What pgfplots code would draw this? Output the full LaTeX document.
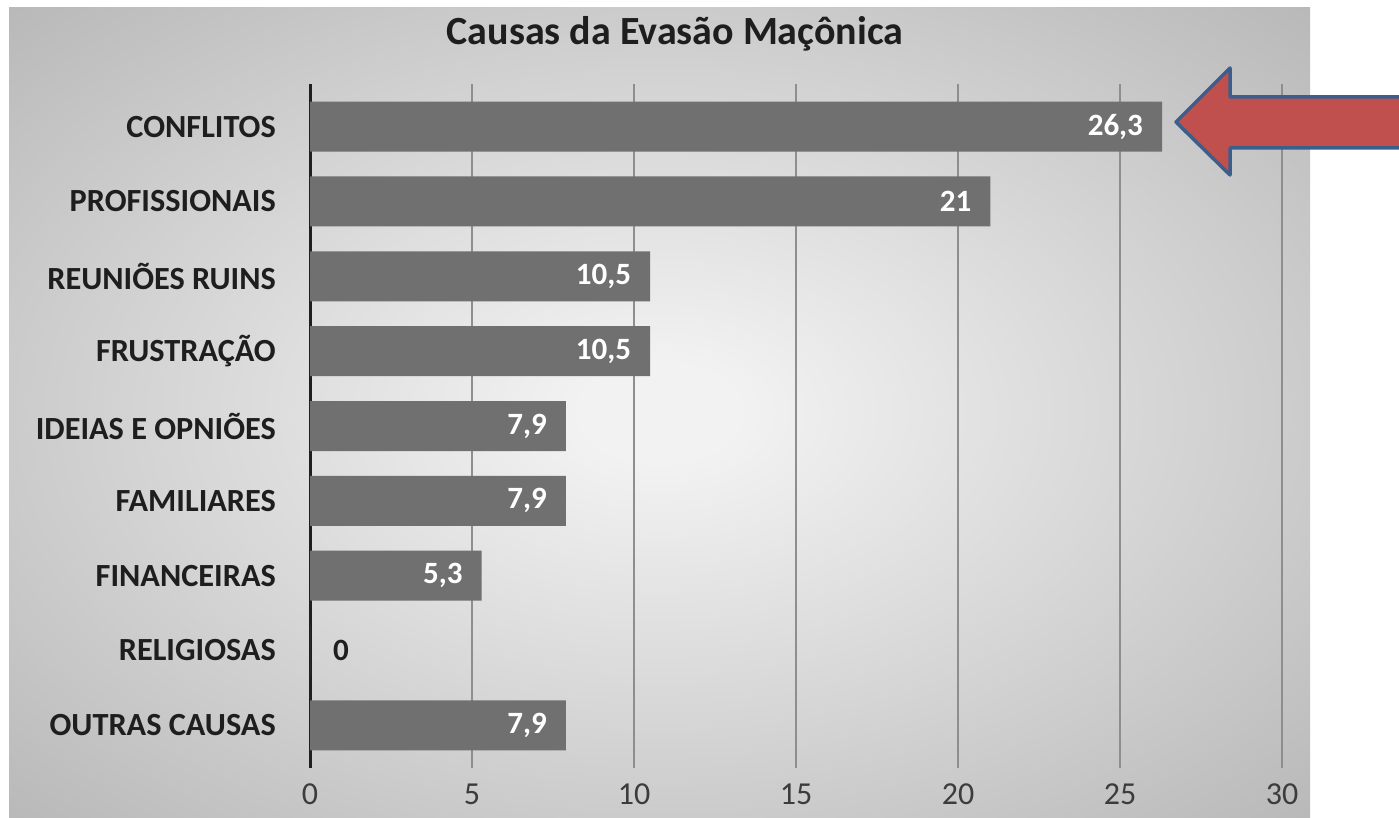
\documentclass[border=0pt]{standalone}
\usepackage{fontspec}
\setmainfont{Carlito}
\usepackage{pgfplots}
\pgfplotsset{compat=1.18}
\definecolor{barc}{HTML}{707070}
\definecolor{gridc}{HTML}{8E8E8E}
\definecolor{bgin}{HTML}{F2F2F2}
\definecolor{bgout}{HTML}{ADADAD}
\definecolor{arrowred}{HTML}{C0504D}
\definecolor{arrowblue}{HTML}{3B5E8C}
\definecolor{labc}{HTML}{1E1E1E}
\definecolor{tickc}{HTML}{3C3C3C}
\pgfdeclareradialshading{bgshade}{\pgfpoint{0bp}{0bp}}{color(0bp)=(bgin); color(3bp)=(bgin); color(42bp)=(bgout); color(75bp)=(bgout)}
\begin{document}
\begin{tikzpicture}[x=1pt,y=1pt]
\useasboundingbox (0,0) rectangle (1399,817);
\fill[white] (0,0) rectangle (1399,817);
\shade[shading=bgshade] (9,0) rectangle (1310,809);
\node[font=\fontsize{40}{40}\selectfont\bfseries, text=labc] at (675,783) {Causas da Evasão Maçônica};
\begin{axis}[
  at={(310pt,49pt)}, anchor=south west, scale only axis,
  width=972pt, height=684pt,
  xmin=0, xmax=30, ymin=-0.57, ymax=8.57,
  xbar, bar width=50pt, bar shift=0pt,
  xtick={0,5,...,30}, ytick={0,...,8},
  yticklabels={OUTRAS CAUSAS, RELIGIOSAS, FINANCEIRAS, FAMILIARES, IDEIAS E OPNIÕES, FRUSTRAÇÃO, REUNIÕES RUINS, PROFISSIONAIS, CONFLITOS},
  xmajorgrids, grid style={gridc, line width=2pt},
  axis lines=left, axis line style={-},
  x axis line style={draw=none},
  y axis line style={line width=3pt, color=black!88},
  major tick length=0pt,
  /pgf/number format/.cd, use comma, fixed, 1000 sep={}, assume math mode=true,
  /pgfplots/.cd,
  yticklabel style={font=\fontsize{32.3}{32.3}\selectfont\bfseries, text=labc, inner sep=0pt, anchor=east, xshift=-34pt},
  xticklabel style={font=\fontsize{32}{32}\selectfont, text=tickc, inner sep=0pt, anchor=north, yshift=-16pt},
  clip=false,
]
\addplot[fill=barc, draw=none,
  nodes near coords,
  every node near coord/.append style={anchor=east, xshift=-19pt, text=white, inner sep=0pt,
    font=\fontsize{31}{31}\selectfont\bfseries}]
  coordinates {(7.9,0) (5.3,2) (7.9,3) (7.9,4) (10.5,5) (10.5,6) (21,7) (26.3,8)};
\addplot[fill=barc, draw=none,
  nodes near coords,
  every node near coord/.append style={anchor=west, xshift=23pt, text=labc, inner sep=0pt,
    font=\fontsize{31}{31}\selectfont\bfseries}]
  coordinates {(0,1)};
\end{axis}
\begin{scope}
\clip (0,0) rectangle (1399,817);
\filldraw[fill=arrowred, draw=arrowblue, line width=3.5pt, line join=round]
  (1420,720) -- (1230,720) -- (1230,749) -- (1176,695) -- (1230,642) -- (1230,669) -- (1420,669);
\end{scope}
\end{tikzpicture}
\end{document}
